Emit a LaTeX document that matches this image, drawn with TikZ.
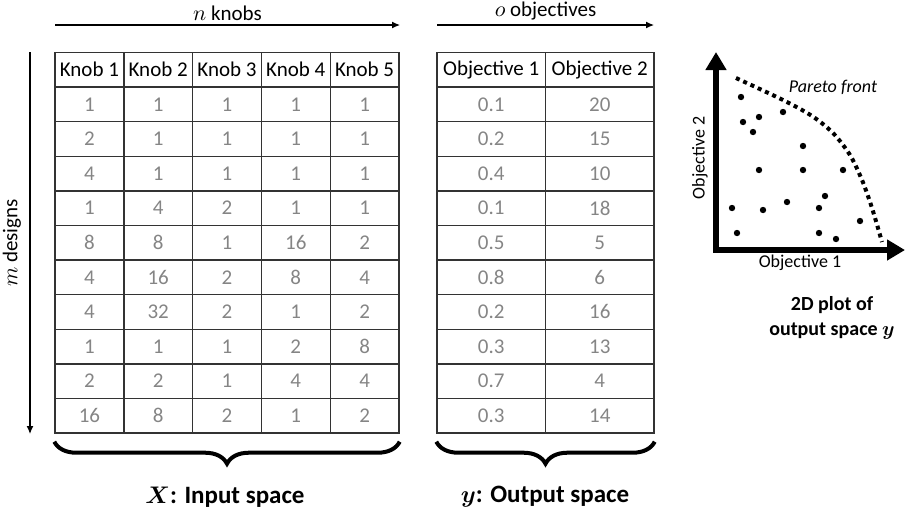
\documentclass[tikz,border=0pt]{standalone}
\usepackage{fontspec}
\setmainfont{Carlito}
\usepackage{tikz}
\usetikzlibrary{arrows.meta,positioning,decorations.pathreplacing}
\definecolor{GridDark}{HTML}{333333}
\definecolor{ValueGray}{HTML}{858585}

\begin{document}
\begin{tikzpicture}[
  x=0.5pt,y=-0.5pt,
  cell/.style={draw=GridDark,line width=0.7pt,minimum height=17.3pt,inner sep=0pt,
               font=\fontsize{10.5}{12}\selectfont,text=ValueGray},
  knobcell/.style={cell,minimum width=34.4pt},
  objcell/.style={cell,minimum width=54.25pt},
  head/.style={text=black},
  arrow/.style={-{Latex[length=4pt,width=3.5pt]},line width=0.6pt},
  axis/.style={-{Triangle[length=9pt,width=10pt]},line width=2.6pt},
  brace/.style={decorate,decoration={brace,mirror,amplitude=11pt},line width=2pt},
  label/.style={font=\fontsize{10.5}{12}\selectfont},
  small/.style={font=\fontsize{9}{11}\selectfont},
  caption/.style={font=\fontsize{12.5}{15}\selectfont\bfseries\boldmath,align=center},
  dot/.style={fill=black}
]
  \useasboundingbox (0,0) rectangle (905,521);

  % input space X
  \foreach \c in {1,...,5}
    \node[knobcell,head] (knob-0-\c) at ({89.4+68.8*(\c-1)},69.7) {Knob \c};
  \foreach \vals [count=\r] in {{1,1,1,1,1},{2,1,1,1,1},{4,1,1,1,1},{1,4,2,1,1},
      {8,8,1,16,2},{4,16,2,8,4},{4,32,2,1,2},{1,1,1,2,8},{2,2,1,4,4},{16,8,2,1,2}}
    \foreach \v [count=\c] in \vals
      \node[knobcell] (knob-\r-\c) at ({89.4+68.8*(\c-1)},{69.7+34.6*\r}) {\v};

  % output space y
  \node[objcell,head] (obj-0-1) at (491.25,69.7) {Objective 1};
  \node[objcell,head] (obj-0-2) at (599.75,69.7) {Objective 2};
  \foreach \a/\b [count=\r] in {0.1/20,0.2/15,0.4/10,0.1/18,0.5/5,
      0.8/6,0.2/16,0.3/13,0.7/4,0.3/14}{
    \node[objcell] (obj-\r-1) at (491.25,{69.7+34.6*\r}) {\a};
    \node[objcell] (obj-\r-2) at (599.75,{69.7+34.6*\r}) {\b};
  }

  \coordinate (knobs-start) at (55,25);
  \coordinate (knobs-end) at (400,25);
  \coordinate (objs-start) at (437,25);
  \coordinate (objs-end) at (654,25);
  \coordinate (designs-start) at (30,52);
  \coordinate (designs-end) at (30,434);
  \draw[arrow] (knobs-start) -- node[above,label,inner sep=2pt]{$n$ knobs} (knobs-end);
  \draw[arrow] (objs-start) -- node[above,label,inner sep=2pt]{$o$ objectives} (objs-end);
  \draw[arrow] (designs-start) -- (designs-end);
  \node[label,rotate=90] (designs-label) at (12,243) {$m$ designs};

  \draw[brace] ([yshift=-4pt]knob-10-1.south west) -- ([yshift=-4pt]knob-10-5.south east);
  \draw[brace] ([yshift=-4pt]obj-10-1.south west) -- ([yshift=-4pt]obj-10-2.south east);
  \node[caption] (x-caption) at (225,497) {$X$: Input space};
  \node[caption] (y-caption) at (545,497) {$y$: Output space};

  % 2D plot
  \coordinate (origin) at (716,250);
  \coordinate (ytip) at (716,52);
  \coordinate (xtip) at (905,250);
  \draw[axis] ([yshift=-1.3pt]origin) -- (ytip);
  \draw[axis] ([xshift=-1.3pt]origin) -- (xtip);
  \node[small,rotate=90] (obj2-label) at (700,158) {Objective 2};
  \node[small] (obj1-label) at (800,263) {Objective 1};
  \foreach \p in {(741,97),(743,122),(759,117),(753,132),(783,112),(803,146),
      (759,170),(803,170),(843,170),(825,196),(732,208),(763,210),(787,202),
      (819,208),(860,221),(737,233),(819,233),(836,239)}
    \fill[dot] \p circle[radius=1.6pt];
  \draw[line width=2pt,dash pattern=on 2pt off 2pt] plot[smooth] coordinates
    {(736,78) (783,100) (812,116) (833,133) (850,155) (862,180) (872,208) (882,242)};
  \node[small,font=\fontsize{9}{11}\selectfont\itshape] (pareto-label) at (833,87) {Pareto front};
  \node[caption,font=\fontsize{10}{12.5}\selectfont\bfseries\boldmath] (plot-caption)
    at (832,318) {2D plot of\\output space $y$};
\end{tikzpicture}
\end{document}
